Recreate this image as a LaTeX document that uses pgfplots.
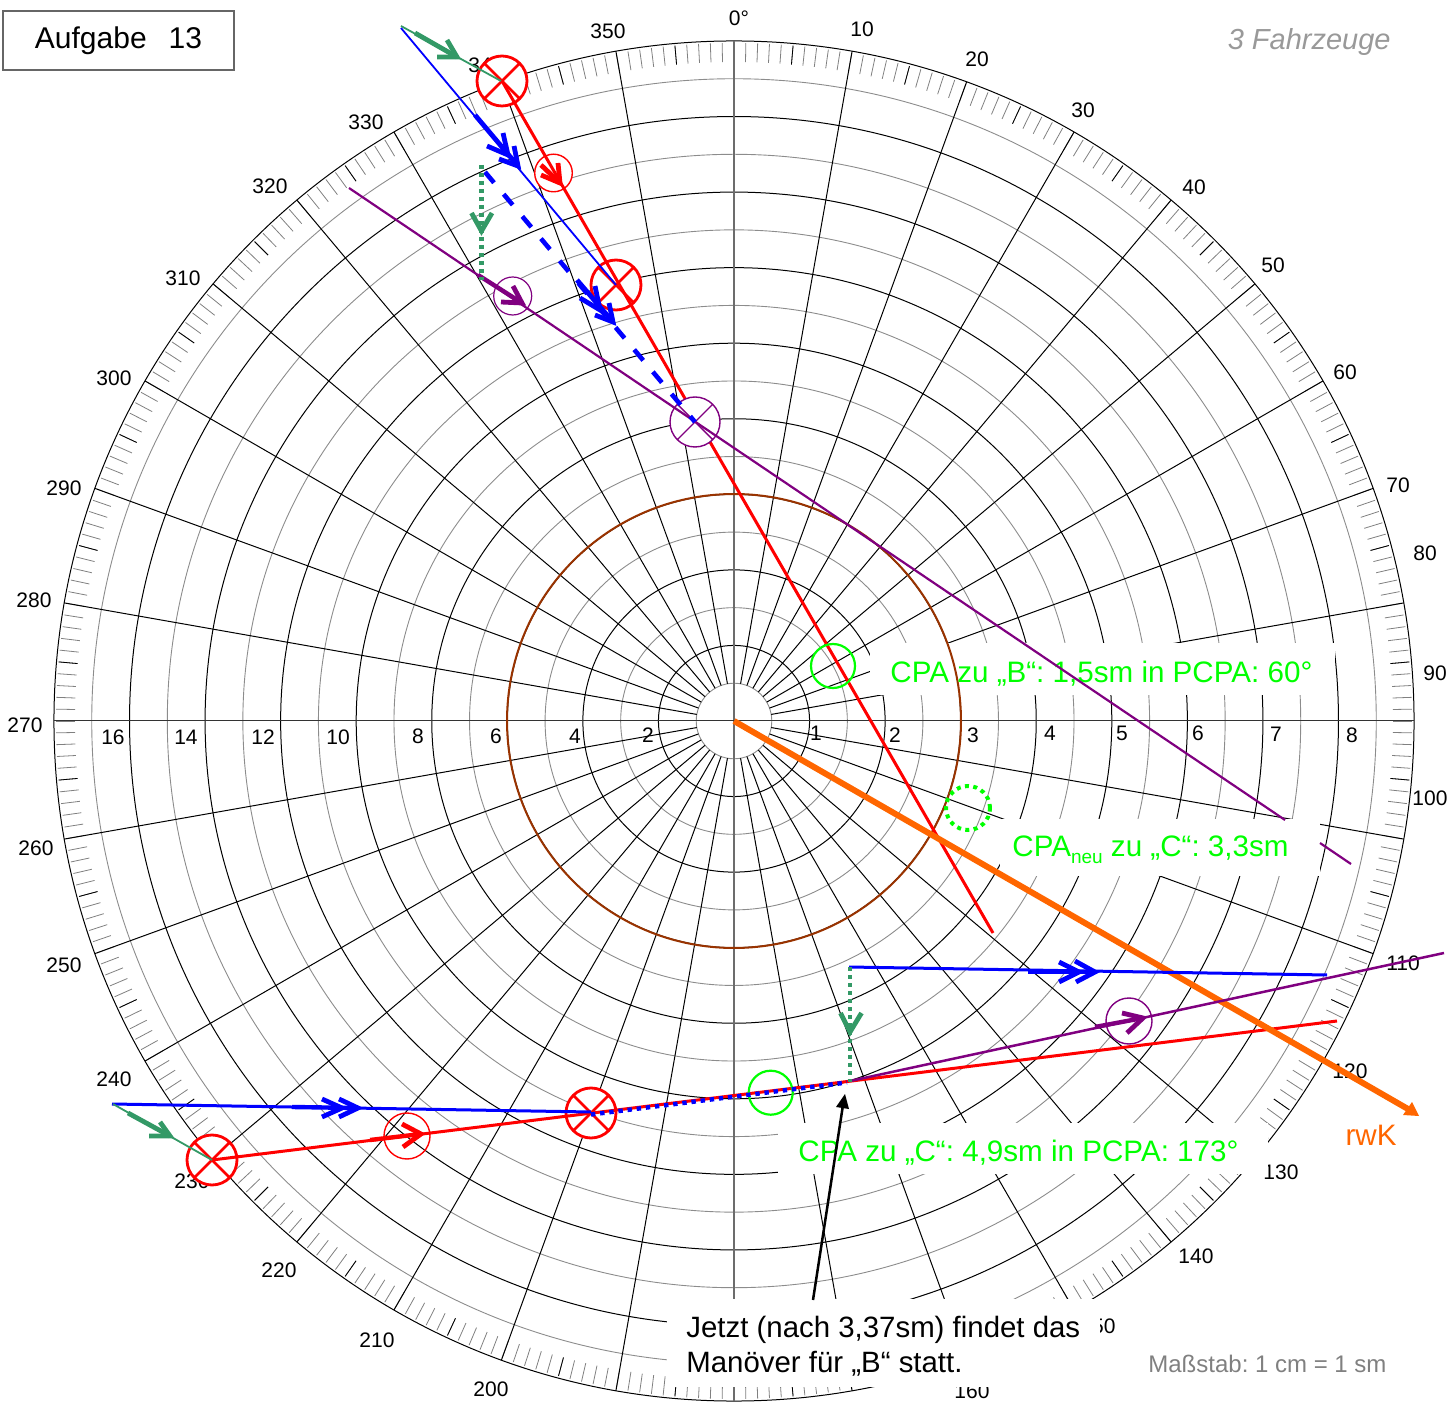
\documentclass[border=0pt]{standalone}
\usepackage{pgfplots}
\pgfplotsset{compat=1.18}
\usepackage{fontspec}
\setmainfont{Liberation Sans}
\definecolor{seeg}{HTML}{339966}
\definecolor{lila}{HTML}{800080}
\definecolor{orng}{HTML}{FF6600}
\definecolor{brwn}{HTML}{993300}
\definecolor{lime}{HTML}{00FF00}
\newcommand{\lab}{\fontsize{10.5pt}{12pt}\selectfont}
\newcommand{\bigt}{\fontsize{14.8pt}{18pt}\selectfont}
\begin{document}
\frenchspacing
\begin{tikzpicture}
\begin{axis}[
    scale only axis,
    width=726pt,
    height=703pt,
    xmin=0, xmax=1452,
    ymin=0, ymax=1406,
    y dir=reverse,
    hide axis,
    clip marker paths=true
]
% radar grid, 1 pixel = 0.5pt
\pgfplotsextra{
  \path (axis cs:0,0) rectangle (axis cs:1452,1406);
  \begin{scope}[shift={(axis cs:734,721)}]
    \foreach \k in {1,3,...,17} \draw[gray!90,line width=0.45pt] (0,0) circle[radius=18.89*\k pt];
    \foreach \k in {2,4,...,18} \draw[black,line width=0.5pt] (0,0) circle[radius=18.89*\k pt];
    \foreach \a in {1,...,359} \draw[gray,line width=0.4pt] ({90-\a}:329.5pt) -- ({90-\a}:339pt);
    \foreach \a in {5,15,...,355} \draw[black,line width=0.4pt] ({90-\a}:329.5pt) -- ({90-\a}:339pt);
    \foreach \a in {10,20,...,80,100,110,...,170,190,200,...,260,280,290,...,350}
      \draw[black,line width=0.5pt] ({90-\a}:18.9pt) -- ({90-\a}:340pt);
    \draw[gray!85!black,line width=0.85pt] (0,-340pt) -- (0,340pt);
    \draw[black!80,line width=0.5pt] (-340pt,0) -- (340pt,0);
  \end{scope}
  \foreach \t/\x/\y in {10/862/29,20/977/59,30/1083/110,40/1194/187,50/1273/265,60/1345/372,70/1398/485,80/1425/553,90/1435/673,100/1430/798,110/1403/963,120/1350/1071,130/1281/1172,140/1196/1256,150/1098/1326,160/972/1391,200/491/1389,210/377/1340,220/279/1270,230/192/1181,240/114/1079,250/64/965,260/36/848,270/25/725,280/34/600,290/64/488,300/114/378,310/183/278,320/270/186,330/366/122,340/486/65,350/608/31}
    \node[font=\lab] at (axis cs:\x,\y) {\t};
  \node[font=\lab] at (axis cs:739,18) {0°};
  \foreach \t/\x/\y in {1/816/733,2/895/735,3/973/735,4/1050/733,5/1122/733,6/1198/733,7/1276/734,8/1352/735,2/648/735,4/575/736,6/496/736,8/418/736,10/338/737,12/263/737,14/186/737,16/113/737}
    \node[font=\lab] at (axis cs:\x,\y) {\t};
  \fill[white] (axis cs:870,643) rectangle (axis cs:1335,695);
  \fill[white] (axis cs:1000,819) rectangle (axis cs:1320,876);
  \fill[white] (axis cs:778,1123) rectangle (axis cs:1268,1174);
  \fill[white] (axis cs:667,1299) rectangle (axis cs:1100,1387);
}
% CPA ring
\addplot[only marks,mark=o,mark size=113.5pt,mark options={draw=brwn,line width=1pt}] coordinates {(734,721)};
% texts
\node[font=\fontsize{15pt}{18pt}\selectfont,draw=gray!80!black,line width=0.6pt,fill=white,minimum width=115.5pt,minimum height=29.5pt,inner sep=0pt] at (axis cs:118.5,40.5) {\raisebox{-0.5pt}{Aufgabe\hspace{11pt}13}};
\node[font=\fontsize{14.5pt}{16pt}\selectfont\itshape,text=gray!80,anchor=east,inner sep=0pt] at (axis cs:1391,42) {3 Fahrzeuge};
\node[font=\fontsize{12pt}{14pt}\selectfont,text=gray,anchor=west,inner sep=0pt] at (axis cs:1148,1364) {Maßstab: 1 cm = 1 sm};
\node[font=\bigt,text=lime,anchor=west,inner sep=0pt] at (axis cs:890,674) {CPA zu „B“: 1,5sm in PCPA: 60°};
\node[font=\bigt,text=lime,anchor=west,inner sep=0pt] at (axis cs:1012,850) {CPA\raisebox{-0.25em}{\fontsize{9.5pt}{10pt}\selectfont neu} zu „C“: 3,3sm};
\node[font=\bigt,text=lime,anchor=west,inner sep=0pt] at (axis cs:798,1153) {CPA zu „C“: 4,9sm in PCPA: 173°};
\node[font=\fontsize{14.7pt}{18pt}\selectfont,anchor=west,inner sep=0pt] at (axis cs:686,1330) {Jetzt (nach 3,37sm) findet das};
\node[font=\fontsize{14.7pt}{18pt}\selectfont,anchor=west,inner sep=0pt] at (axis cs:686,1364) {Manöver für „B“ statt.};
\node[font=\bigt,text=orng] at (axis cs:1371,1135) {rwK};
% sighted positions, filled circles lie under the tracks
\addplot[only marks,mark=*,mark size=9.4pt,mark options={draw=red,fill=white,line width=0.7pt}] coordinates {(553.5,173)};
\addplot[only marks,mark=otimes*,mark size=12.5pt,mark options={draw=red,fill=white,line width=1.4pt}] coordinates {(502,81) (616,285) (212,1160) (591,1113)};
\addplot[only marks,mark=o,mark size=11.5pt,mark options={draw=red,line width=0.7pt}] coordinates {(407,1136)};
% red relative tracks
\addplot[red,line width=1.5pt] coordinates {(502,81) (993,933)};
\addplot[red,line width=1.5pt] coordinates {(212,1160) (1337,1021)};
\addplot[red,line width=2.4pt] coordinates {(541,175) (560,183) (558,163)};
\addplot[red,line width=2.4pt] coordinates {(541,165) (560,183)};
\addplot[red,line width=2.2pt] coordinates {(370,1140) (421,1134)};
\addplot[red,line width=2.4pt] coordinates {(402,1124) (421,1134) (403,1147)};
% orange course
\addplot[orng,line width=3pt] coordinates {(734,721) (1408,1109)};
\addplot[fill=orng,draw=none] coordinates {(1419,1116) (1403,1115) (1412,1102)} -- cycle;
% purple
\addplot[only marks,mark=*,mark size=9.5pt,mark options={draw=lila,fill=white,line width=0.6pt}] coordinates {(512.7,296)};
\addplot[only marks,mark=otimes*,mark size=12.5pt,mark options={draw=lila,fill=white,line width=0.7pt}] coordinates {(695,422)};
\addplot[only marks,mark=*,mark size=11.5pt,mark options={draw=lila,fill=white,line width=0.7pt}] coordinates {(1129,1021)};
\addplot[lila,line width=1.1pt] coordinates {(349,188) (1285,820)};
\addplot[lila,line width=1.1pt] coordinates {(1320,843) (1351,864)};
\addplot[lila,line width=1.25pt] coordinates {(850,1081) (1444,953)};
\addplot[lila,line width=2.2pt] coordinates {(478,275) (522,303)};
\addplot[lila,line width=2.4pt] coordinates {(513,286) (522,303) (501,302)};
\addplot[lila,line width=2.2pt] coordinates {(1095,1027) (1143,1018)};
\addplot[lila,line width=2.4pt] coordinates {(1122,1013) (1143,1018) (1127,1033)};
% CPA circles
\addplot[only marks,mark=o,mark size=11pt,mark options={draw=lime,line width=1.1pt}] coordinates {(833,666) (770.7,1092.7)};
\addplot[only marks,mark=o,mark size=11pt,mark options={draw=lime,line width=2pt,dash pattern=on 2pt off 2.2pt}] coordinates {(968,808)};
% blue tracks
\addplot[blue,line width=0.9pt] coordinates {(401,28) (616,285)};
\addplot[blue,line width=2.3pt,dash pattern=on 7pt off 7.5pt] coordinates {(485,172) (695,422)};
\addplot[blue,line width=2.4pt] coordinates {(475,115) (518,166)};
\addplot[blue,line width=2.4pt] coordinates {(503,133) (508,155) (487,146)};
\addplot[blue,line width=2.4pt] coordinates {(514,146) (518,166) (499,159)};
\addplot[blue,line width=2.4pt] coordinates {(577,280) (613,322)};
\addplot[blue,line width=2.4pt] coordinates {(595,286) (600,310) (580,298)};
\addplot[blue,line width=2.4pt] coordinates {(609,303) (613,322) (595,315)};
\addplot[blue,line width=1.5pt] coordinates {(849,967) (1327,975)};
\addplot[blue,line width=2.2pt] coordinates {(1028,972) (1095,972)};
\addplot[blue,line width=2.4pt] coordinates {(1059,962) (1079,972) (1059,982)};
\addplot[blue,line width=2.4pt] coordinates {(1075,961) (1095,972) (1076,982)};
\addplot[blue,line width=1.5pt] coordinates {(112,1104) (591,1112)};
\addplot[blue,line width=2.2pt] coordinates {(292,1107) (358,1108)};
\addplot[blue,line width=2.4pt] coordinates {(322,1099) (342,1108) (322,1117)};
\addplot[blue,line width=2.4pt] coordinates {(339,1099) (358,1108) (339,1117)};
\addplot[blue,line width=2.2pt,dash pattern=on 2.2pt off 2.4pt] coordinates {(591,1114.5) (847,1082.5)};
% green own-ship vectors
\addplot[seeg,line width=0.9pt] coordinates {(401,26) (501,81)};
\addplot[seeg,line width=2.4pt] coordinates {(415,33) (457,57)};
\addplot[seeg,line width=2.4pt] coordinates {(447,40) (457,57) (437,57)};
\addplot[seeg,line width=0.9pt] coordinates {(113,1104) (212,1160)};
\addplot[seeg,line width=2.4pt] coordinates {(128,1113) (170,1136)};
\addplot[seeg,line width=2.4pt] coordinates {(160,1122) (170,1136) (149,1136)};
\addplot[seeg,line width=2.2pt,dash pattern=on 2pt off 2pt] coordinates {(481.5,165) (481.5,280)};
\addplot[seeg,line width=2.4pt] coordinates {(471.5,213) (481.5,231) (492,213)};
\addplot[seeg,line width=2.2pt,dash pattern=on 2pt off 2pt] coordinates {(850,967) (850,1082)};
\addplot[seeg,line width=2.4pt] coordinates {(840.5,1013) (850,1032) (861.5,1013)};
% manoeuvre arrow
\addplot[black,line width=1.25pt] coordinates {(813,1300) (843,1105)};
\addplot[fill=black,draw=none] coordinates {(845,1094) (836,1107) (849,1109)} -- cycle;
\end{axis}
\end{tikzpicture}
\end{document}
